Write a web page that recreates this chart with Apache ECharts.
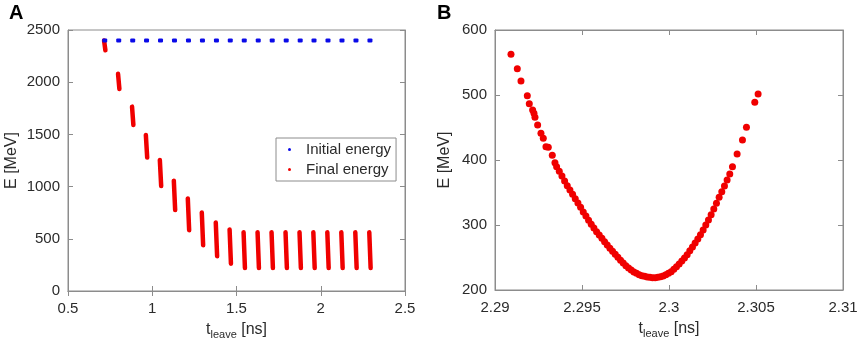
<!DOCTYPE html>
<html>
<head>
<meta charset="utf-8">
<script src="https://cdn.jsdelivr.net/npm/echarts@6/dist/echarts.min.js"></script>
<style>
  html, body { margin: 0; padding: 0; background: #fff; }
  #chart { width: 858px; height: 340px; }
</style>
</head>
<body>
<div id="chart"></div>
<script>
// panel A: injection times of the bunches (ns) and energies (MeV)
const initialT = [0.718, 0.801, 0.884, 0.966, 1.049, 1.132, 1.215, 1.298, 1.381, 1.463,
                  1.546, 1.629, 1.712, 1.795, 1.878, 1.960, 2.043, 2.126, 2.209, 2.292];
const initialE = 2400;
// each final-energy bunch is a short vertical streak: top and bottom energy
const finalTop = [2400, 2080, 1766, 1495, 1255, 1057, 887, 752, 656, 589,
                  563, 563, 563, 563, 563, 563, 563, 563, 563, 563];
const finalBottom = [2305, 1935, 1590, 1278, 1005, 775, 582, 438, 333, 262,
                     220, 220, 220, 220, 220, 220, 220, 220, 220, 220];
const streakDrift = 0.004; // ns, the streak leans to the right going down

// panel B: last bunch, t_leave (ns) and E (MeV)
const lastT = [
  2.290919, 2.291282, 2.291493, 2.291857, 2.291971, 2.292163, 2.292239, 2.292297, 2.292450, 2.292641,
  2.292775, 2.292928, 2.293062, 2.293292, 2.293445,
  2.293541, 2.293694, 2.293847, 2.294000, 2.294153, 2.294306, 2.294459, 2.294612, 2.294766, 2.294919,
  2.295072, 2.295225, 2.295378, 2.295531, 2.295684, 2.295837, 2.295990, 2.296144, 2.296297, 2.296450,
  2.296603, 2.296756, 2.296909, 2.297062, 2.297215, 2.297369, 2.297522, 2.297675, 2.297828, 2.297981,
  2.298134, 2.298287, 2.298440, 2.298593, 2.298746, 2.298900, 2.299053, 2.299206, 2.299359, 2.299512,
  2.299665, 2.299818, 2.299971, 2.300124, 2.300278, 2.300431, 2.300584, 2.300737, 2.300890, 2.301043,
  2.301196, 2.301349, 2.301502, 2.301656, 2.301809, 2.301962, 2.302115, 2.302268, 2.302421, 2.302574,
  2.302727, 2.302881, 2.303034, 2.303187, 2.303340, 2.303493,
  2.303648, 2.303915, 2.304222, 2.304451, 2.304930, 2.305121
];
const lastE = [
  562.6, 540.5, 521.5, 499.0, 486.7, 476.9, 471.8, 465.6, 453.9, 441.0,
  433.3, 420.5, 419.5, 407.2, 395.9,
  389.7, 382.6, 375.4, 367.7, 360.5, 353.8, 347.2, 340.5, 333.8, 327.2,
  320.0, 313.8, 307.2, 301.0, 295.4, 289.7, 284.6, 279.5, 274.4, 269.2,
  264.1, 259.5, 254.9, 250.3, 245.6, 241.5, 237.4, 233.8, 230.8, 227.7,
  225.6, 223.6, 222.1, 221.0, 220.0, 219.5, 219.0, 219.0, 219.5, 220.5,
  221.5, 223.6, 225.6, 228.2, 231.8, 235.9, 240.0, 244.6, 249.2, 254.4,
  260.5, 266.2, 272.3, 278.5, 285.1, 292.3, 300.0, 307.7, 315.9, 324.6,
  333.3, 342.6, 351.3, 360.0, 369.2, 378.5,
  389.7, 409.2, 430.8, 450.3, 488.7, 501.5
];

const font = 'Liberation Sans, Arial, sans-serif';
const textColor = '#2b2b2b';
const boxColor = '#8c8c8c';
const red = '#f00000';

const tLeaveName = '{a|t}{s|leave}{a| [ns]}';
const tLeaveStyle = {
  rich: {
    a: { fontSize: 16, color: textColor, fontFamily: font },
    s: { fontSize: 11, color: textColor, fontFamily: font, padding: [9, 0, 0, 0] }
  }
};

function mainAxis(pos, min, max, interval) {
  return {
    type: 'value', position: pos, min: min, max: max, interval: interval,
    axisLine: { show: true, lineStyle: { color: boxColor, width: 1 } },
    axisTick: { show: true, inside: true, length: 5, lineStyle: { color: boxColor } },
    axisLabel: {
      show: true, color: textColor, fontSize: 15, fontFamily: font, margin: 8,
      formatter: function (v) { return String(+v.toFixed(3)); }
    },
    splitLine: { show: false }
  };
}

function mirrorAxis(pos, min, max, interval, gridIndex) {
  const a = mainAxis(pos, min, max, interval);
  a.gridIndex = gridIndex;
  a.axisLabel = { show: false };
  return a;
}

const xA = mainAxis('bottom', 0.5, 2.5, 0.5);
xA.gridIndex = 0;
xA.axisLabel.margin = 10;
xA.name = tLeaveName; xA.nameLocation = 'middle'; xA.nameGap = 29;
xA.nameTextStyle = tLeaveStyle;
const yA = mainAxis('left', 0, 2500, 500);
yA.gridIndex = 0;
yA.name = 'E [MeV]'; yA.nameLocation = 'middle'; yA.nameGap = 48;
yA.nameTextStyle = { color: textColor, fontSize: 16, fontFamily: font };

const xB = mainAxis('bottom', 2.29, 2.31, 0.005);
xB.gridIndex = 1;
xB.axisLabel.margin = 10;
xB.name = tLeaveName; xB.nameLocation = 'middle'; xB.nameGap = 29;
xB.nameTextStyle = tLeaveStyle;
const yB = mainAxis('left', 200, 600, 100);
yB.gridIndex = 1;
yB.name = 'E [MeV]'; yB.nameLocation = 'middle'; yB.nameGap = 42;
yB.nameTextStyle = { color: textColor, fontSize: 16, fontFamily: font };

const series = [];
series.push({
  name: 'Initial energy', type: 'scatter', xAxisIndex: 0, yAxisIndex: 0,
  symbol: 'roundRect', symbolSize: [5, 4],
  itemStyle: { color: '#0a0ae8', opacity: 1 },
  data: initialT.map(t => [t, initialE]),
  z: 3
});
initialT.forEach((t, i) => {
  series.push({
    name: 'Final energy', type: 'line', xAxisIndex: 0, yAxisIndex: 0,
    symbol: 'none', silent: true,
    lineStyle: { color: red, width: 4.5, cap: 'round' },
    itemStyle: { color: red },
    data: [[t - streakDrift, finalTop[i]], [t + streakDrift, finalBottom[i]]],
    z: 2
  });
});
series.push({
  name: 'Last bunch', type: 'scatter', xAxisIndex: 1, yAxisIndex: 1,
  symbol: 'circle', symbolSize: 7,
  itemStyle: { color: red, opacity: 1 },
  data: lastT.map((t, i) => [t, lastE[i]])
});

const option = {
  animation: false,
  backgroundColor: '#fff',
  textStyle: { fontFamily: font },
  title: [
    { text: 'A', left: 4, top: -2, textStyle: { fontSize: 20, fontWeight: 'bold', color: '#000', fontFamily: font } },
    { text: 'B', left: 432, top: -2, textStyle: { fontSize: 20, fontWeight: 'bold', color: '#000', fontFamily: font } }
  ],
  legend: {
    data: ['Initial energy', 'Final energy'],
    orient: 'vertical', left: 276, top: 138,
    icon: 'circle', itemWidth: 3, itemHeight: 3, itemGap: 5,
    padding: [4, 5, 4, 12],
    borderColor: boxColor, borderWidth: 1, backgroundColor: '#fff',
    textStyle: { fontSize: 15, color: textColor, fontFamily: font, padding: [0, 0, 0, 10] }
  },
  grid: [
    { left: 68, top: 30, width: 337, height: 261, outerBoundsMode: 'none', containLabel: false,
      show: true, borderColor: boxColor, borderWidth: 1 },
    { left: 495, top: 30, width: 348, height: 260, outerBoundsMode: 'none', containLabel: false,
      show: true, borderColor: boxColor, borderWidth: 1 }
  ],
  xAxis: [xA, xB, mirrorAxis('top', 0.5, 2.5, 0.5, 0), mirrorAxis('top', 2.29, 2.31, 0.005, 1)],
  yAxis: [yA, yB, mirrorAxis('right', 0, 2500, 500, 0), mirrorAxis('right', 200, 600, 100, 1)],
  series: series
};

const chart = echarts.init(document.getElementById('chart'));
chart.setOption(option);
</script>
</body>
</html>
